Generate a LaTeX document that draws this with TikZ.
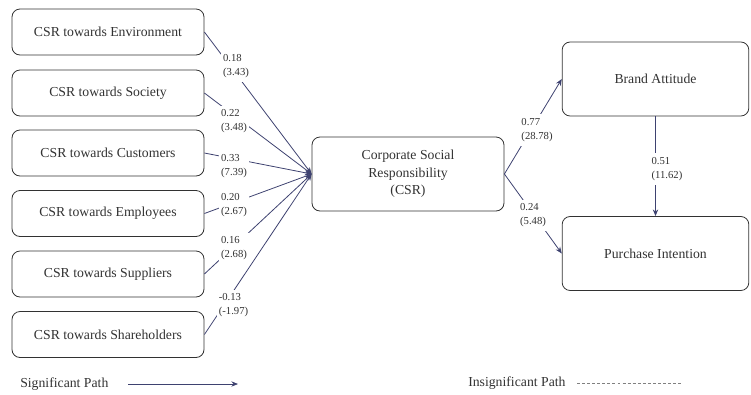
\documentclass[tikz,border=0pt]{standalone}
\usepackage{fontspec}
\setmainfont{Liberation Serif}
\usetikzlibrary{arrows.meta}
\definecolor{pathblue}{RGB}{62,66,112}
\definecolor{inkgray}{RGB}{50,50,50}
\begin{document}
\begin{tikzpicture}[x=0.75pt, y=-0.75pt,
    construct/.style={draw=inkgray, text=inkgray, rounded corners=6pt, line width=0.6pt,
        minimum width=144pt, minimum height=34.5pt, inner sep=0pt, align=center,
        font=\fontsize{10.3}{13}\selectfont},
    estimate/.style={fill=white, text=inkgray, align=left, inner xsep=1.5pt, inner ysep=3pt,
        font=\fontsize{8}{10.5}\selectfont},
    legendtext/.style={text=inkgray, anchor=west, inner sep=0pt, font=\fontsize{10.3}{13}\selectfont},
    sigpath/.style={draw=pathblue, line width=0.6pt, -{Stealth[length=5pt, width=4pt]}}]
    \useasboundingbox (0,0) rectangle (751,394);

    \node[construct] (env) at (108,32) {CSR towards Environment};
    \node[construct] (soc) at (108,93) {CSR towards Society};
    \node[construct] (cus) at (108,153) {CSR towards Customers};
    \node[construct] (emp) at (108,213.5) {CSR towards Employees};
    \node[construct] (sup) at (108,274) {CSR towards Suppliers};
    \node[construct] (sha) at (108,334.5) {CSR towards Shareholders};

    \node[construct, minimum height=55.5pt] (csr) at (408,174) {Corporate Social\\Responsibility\\(CSR)};
    \node[construct, minimum width=140pt, minimum height=55.5pt] (ba) at (655.5,79) {Brand Attitude};
    \node[construct, minimum width=140pt, minimum height=55.5pt] (pi) at (655.5,253.5) {Purchase Intention};

    \foreach \src in {env,soc,cus,emp,sup,sha}
        \draw[sigpath] (\src.east) -- (csr.west);
    \draw[sigpath] (csr.east) -- (ba.west);
    \draw[sigpath] (csr.east) -- (pi.west);
    \draw[sigpath] (ba.south) -- (pi.north);

    \node[estimate] (e1) at (236,66.5) {0.18\\(3.43)};
    \node[estimate] (e2) at (234,121.5) {0.22\\(3.48)};
    \node[estimate] (e3) at (234,166) {0.33\\(7.39)};
    \node[estimate] (e4) at (234,205) {0.20\\(2.67)};
    \node[estimate] (e5) at (234,248.5) {0.16\\(2.68)};
    \node[estimate] (e6) at (233.5,305.5) {-0.13\\(-1.97)};
    \node[estimate] (e7) at (537,130) {0.77\\(28.78)};
    \node[estimate] (e8) at (533,215.5) {0.24\\(5.48)};
    \node[estimate] (e9) at (667,169) {0.51\\(11.62)};

    \node[legendtext] (sig) at (20,384) {Significant Path};
    \coordinate (sigfrom) at (128,384);
    \coordinate (sigto) at (238,384);
    \draw[sigpath] (sigfrom) -- (sigto);
    \node[legendtext] (insig) at (468,383) {Insignificant Path};
    \coordinate (insigfrom) at (577,383);
    \coordinate (insigto) at (682,383);
    \draw[gray, line width=0.5pt, dash pattern=on 2.2pt off 1.6pt] (insigfrom) -- (insigto);
\end{tikzpicture}
\end{document}
